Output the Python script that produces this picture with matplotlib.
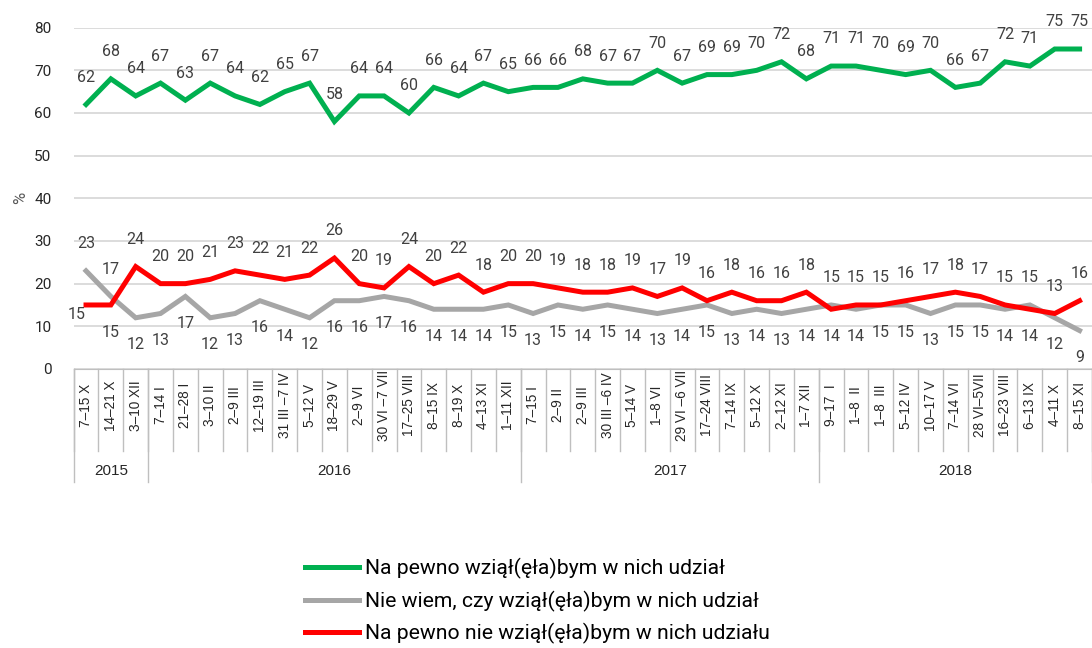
import matplotlib
matplotlib.use("Agg")
import matplotlib.pyplot as plt

plt.rcParams['font.family'] = ['Roboto', 'DejaVu Sans']

dates = ["7–15 X", "14–21 X", "3–10 XII",
         "7–14 I", "21–28 I", "3–10 II", "2–9 III", "12–19 III", "31 III –7 IV", "5–12 V",
         "18–29 V", "2–9 VI", "30 VI –7 VII", "17–25 VIII", "8–15 IX", "8–19 X", "4–13 XI", "1–11 XII",
         "7–15 I", "2–9 II", "2–9 III", "30 III –6 IV", "5–14 V", "1–8 VI", "29 VI –6 VII",
         "17–24 VIII", "7–14 IX", "5–12 X", "2–12 XI", "1–7 XII",
         "9–17  I", "1–8  II", "1–8  III", "5–12 IV", "10–17 V", "7–14 VI", "28 VI–5VII",
         "16–23 VIII", "6–13 IX", "4–11 X", "8–15 XI"]
years = ["2015", "2016", "2017", "2018"]
year_counts = [3, 15, 12, 11]

na_pewno_tak = [62, 68, 64, 67, 63, 67, 64, 62, 65, 67, 58, 64, 64, 60, 66, 64, 67, 65,
                66, 66, 68, 67, 67, 70, 67, 69, 69, 70, 72, 68,
                71, 71, 70, 69, 70, 66, 67, 72, 71, 75, 75]
nie_wiem = [23, 17, 12, 13, 17, 12, 13, 16, 14, 12, 16, 16, 17, 16, 14, 14, 14, 15,
            13, 15, 14, 15, 14, 13, 14, 15, 13, 14, 13, 14,
            15, 14, 15, 15, 13, 15, 15, 14, 15, 12, 9]
na_pewno_nie = [15, 15, 24, 20, 20, 21, 23, 22, 21, 22, 26, 20, 19, 24, 20, 22, 18, 20,
                20, 19, 18, 18, 19, 17, 19, 16, 18, 16, 16, 18,
                14, 15, 15, 16, 17, 18, 17, 15, 14, 13, 16]

labels = ["Na pewno wziął(ęła)bym w nich udział",
          "Nie wiem, czy wziął(ęła)bym w nich udział",
          "Na pewno nie wziął(ęła)bym w nich udziału"]
colors = ["#00B050", "#A6A6A6", "#FF0000"]

fig = plt.figure(figsize=(10.92, 6.48), dpi=100)
ax = fig.add_axes([0.0674, 0.4306, 0.9326, 0.5267])

x = list(range(len(dates)))
lw = 3.6
ax.plot(x, na_pewno_tak, color=colors[0], lw=lw, label=labels[0], solid_joinstyle='miter', zorder=3)
ax.plot(x, nie_wiem, color=colors[1], lw=lw, label=labels[1], solid_joinstyle='miter', zorder=2)
ax.plot(x, na_pewno_nie, color=colors[2], lw=lw, label=labels[2], solid_joinstyle='miter', zorder=3)

ax.set_xlim(-0.5, len(dates) - 0.5)
ax.set_ylim(0, 80)
ax.set_yticks(range(0, 81, 10))
ax.grid(axis='y', color='#D9D9D9', lw=1.3)
ax.set_axisbelow(True)
for s in ['top', 'right', 'left']:
    ax.spines[s].set_visible(False)
ax.spines['bottom'].set_color('#BFBFBF')
ax.tick_params(axis='y', length=0, pad=16, labelsize=11, labelcolor='#262626')
ax.set_ylabel('%', color='#595959', fontsize=12)
ax.yaxis.set_label_coords(-0.045, 0.5)

# data labels
lab_kw = dict(textcoords='offset points', ha='center', va='center', fontsize=11.5, color='#404040')
off = 19.5
for i in x:
    ax.annotate(str(na_pewno_tak[i]), (i, na_pewno_tak[i]), xytext=(0, off), **lab_kw)
    r, g = na_pewno_nie[i], nie_wiem[i]
    if i == 0:
        ax.annotate(str(r), (i, r), xytext=(-0.5, -7), textcoords='offset points', ha='right',
                    va='center', fontsize=11.5, color='#404040')
        ax.annotate(str(g), (i, g), xytext=(0, off), **lab_kw)
    elif r >= g:
        ax.annotate(str(r), (i, r), xytext=(0, off), **lab_kw)
        ax.annotate(str(g), (i, g), xytext=(0, -off), **lab_kw)
    else:
        ax.annotate(str(g), (i, g), xytext=(0, off), **lab_kw)
        ax.annotate(str(r), (i, r), xytext=(0, -off), **lab_kw)

# category axis
ax.set_xticks([])
tr = ax.get_xaxis_transform()
cat_font = ['Liberation Sans Narrow', 'Liberation Sans', 'DejaVu Sans']
for i, d in enumerate(dates):
    ax.text(i, -0.107, d, transform=tr, rotation=90, ha='center', va='center',
            fontsize=9.8, family=cat_font, color='#262626')
for b in range(len(dates) + 1):
    ax.plot([b - 0.5, b - 0.5], [0, -0.24], transform=tr, color='#BFBFBF', lw=1, clip_on=False)

start = 0
for yr, n in zip(years, year_counts):
    ax.plot([start - 0.5, start - 0.5], [0, -0.33], transform=tr, color='#BFBFBF', lw=1, clip_on=False)
    ax.text(start + (n - 1) / 2, -0.30, yr, transform=tr, ha='center', va='center',
            fontsize=11, family=cat_font, color='#262626')
    start += n
ax.plot([start - 0.5, start - 0.5], [0, -0.33], transform=tr, color='#BFBFBF', lw=1, clip_on=False)

fig.legend(loc='upper left', bbox_to_anchor=(0.272, 0.152), frameon=False,
           fontsize=15.2, handlelength=2.55, handletextpad=0.25, labelspacing=0.55,
           borderaxespad=0)

fig.savefig('out.png', dpi=100)
